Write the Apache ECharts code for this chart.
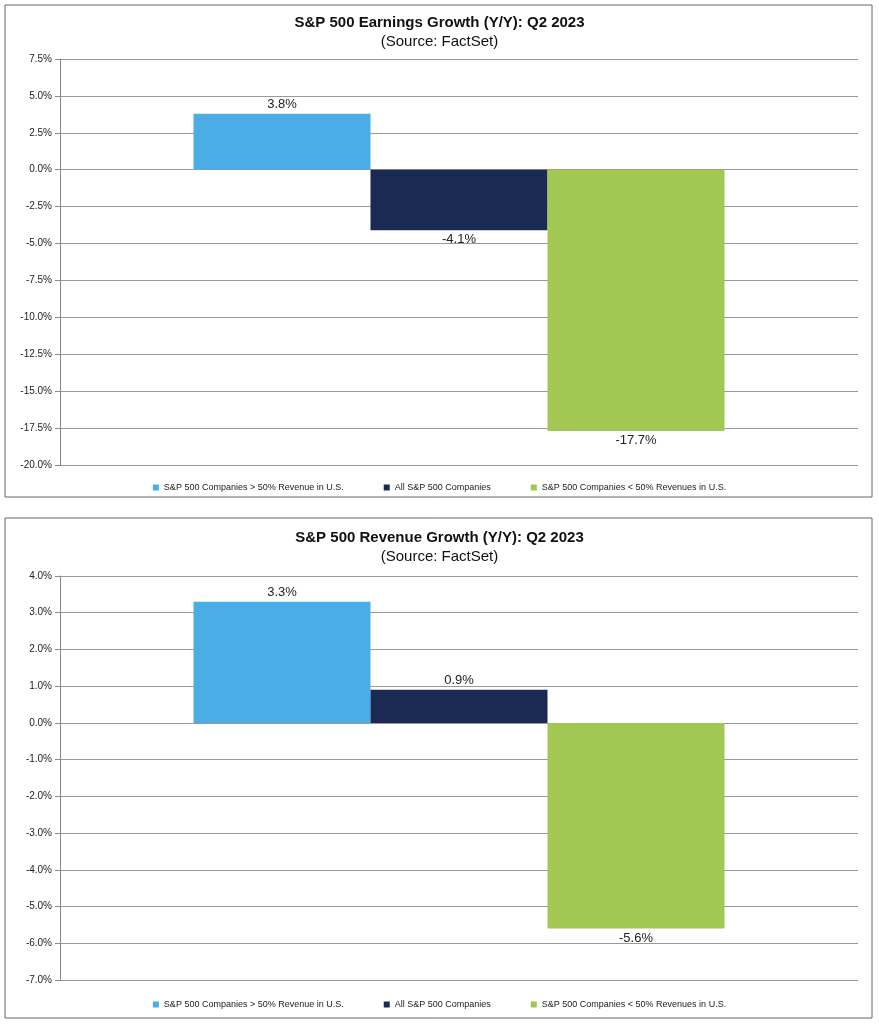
<!DOCTYPE html>
<html><head><meta charset="utf-8">
<script src="https://cdn.jsdelivr.net/npm/echarts@6/dist/echarts.min.js"></script>
<style>html,body{margin:0;padding:0;background:#fff}#c{width:879px;height:1024px}</style>
</head><body><div id="c"></div>
<script>
var seriesNames = ['S&P 500 Companies > 50% Revenue in U.S.', 'All S&P 500 Companies', 'S&P 500 Companies < 50% Revenues in U.S.'];
var colors = ['#4BACE6', '#1B2A52', '#A2C752'];
var earnings = [3.8, -4.1, -17.7];
var revenue = [3.3, 0.9, -5.6];

var chart = echarts.init(document.getElementById('c'));
var font = 'Liberation Sans, Arial, sans-serif';

function mkSeries(vals, idx) {
  return vals.map(function (v, i) {
    return {
      name: seriesNames[i], type: 'bar', xAxisIndex: idx, yAxisIndex: idx,
      data: [v], barWidth: 177, barGap: '0%',
      itemStyle: { color: colors[i] },
      label: { show: true, position: v >= 0 ? 'top' : 'bottom', formatter: function (p) { return p.value.toFixed(1) + '%'; },
        color: '#222', fontSize: 13, fontFamily: font, distance: 3 }
    };
  });
}
function yAx(idx, min, max, step, dec) {
  return { gridIndex: idx, type: 'value', min: min, max: max, interval: step,
    axisLabel: { formatter: function (v) { return v.toFixed(1) + '%'; }, fontSize: 10, color: '#222', fontFamily: font },
    axisLine: { show: true, lineStyle: { color: '#888' } }, axisTick: { show: true, lineStyle: { color: '#888' } },
    splitLine: { lineStyle: { color: '#999' } } };
}
function legendFor(top) {
  return { top: top, left: 'center', itemWidth: 6, itemHeight: 6, itemGap: 40, icon: 'rect',
    textStyle: { fontSize: 9, color: '#222', fontFamily: font }, data: seriesNames, selectedMode: false };
}

chart.setOption({
  animation: false,
  title: [
    { text: 'S&P 500 Earnings Growth (Y/Y): Q2 2023', subtext: '(Source: FactSet)', left: 'center', top: 10, itemGap: 4,
      textStyle: { fontSize: 15, fontWeight: 'bold', color: '#111', fontFamily: font },
      subtextStyle: { fontSize: 15, color: '#111', fontFamily: font } },
    { text: 'S&P 500 Revenue Growth (Y/Y): Q2 2023', subtext: '(Source: FactSet)', left: 'center', top: 525, itemGap: 4,
      textStyle: { fontSize: 15, fontWeight: 'bold', color: '#111', fontFamily: font },
      subtextStyle: { fontSize: 15, color: '#111', fontFamily: font } }
  ],
  legend: [legendFor(478), legendFor(995)],
  graphic: [
    { type: 'rect', shape: { x: 5, y: 5, width: 867, height: 492 }, style: { fill: 'none', stroke: '#666', lineWidth: 1 }, z: -1 },
    { type: 'rect', shape: { x: 5, y: 518, width: 867, height: 500 }, style: { fill: 'none', stroke: '#666', lineWidth: 1 }, z: -1 }
  ],
  grid: [
    { left: 60, right: 21, top: 59, height: 406 },
    { left: 60, right: 21, top: 576, height: 404 }
  ],
  xAxis: [
    { gridIndex: 0, type: 'category', data: [''], axisLine: { show: false }, axisTick: { show: false }, axisLabel: { show: false } },
    { gridIndex: 1, type: 'category', data: [''], axisLine: { show: false }, axisTick: { show: false }, axisLabel: { show: false } }
  ],
  yAxis: [yAx(0, -20, 7.5, 2.5), yAx(1, -7, 4, 1)],
  series: mkSeries(earnings, 0).concat(mkSeries(revenue, 1))
});
</script></body></html>
